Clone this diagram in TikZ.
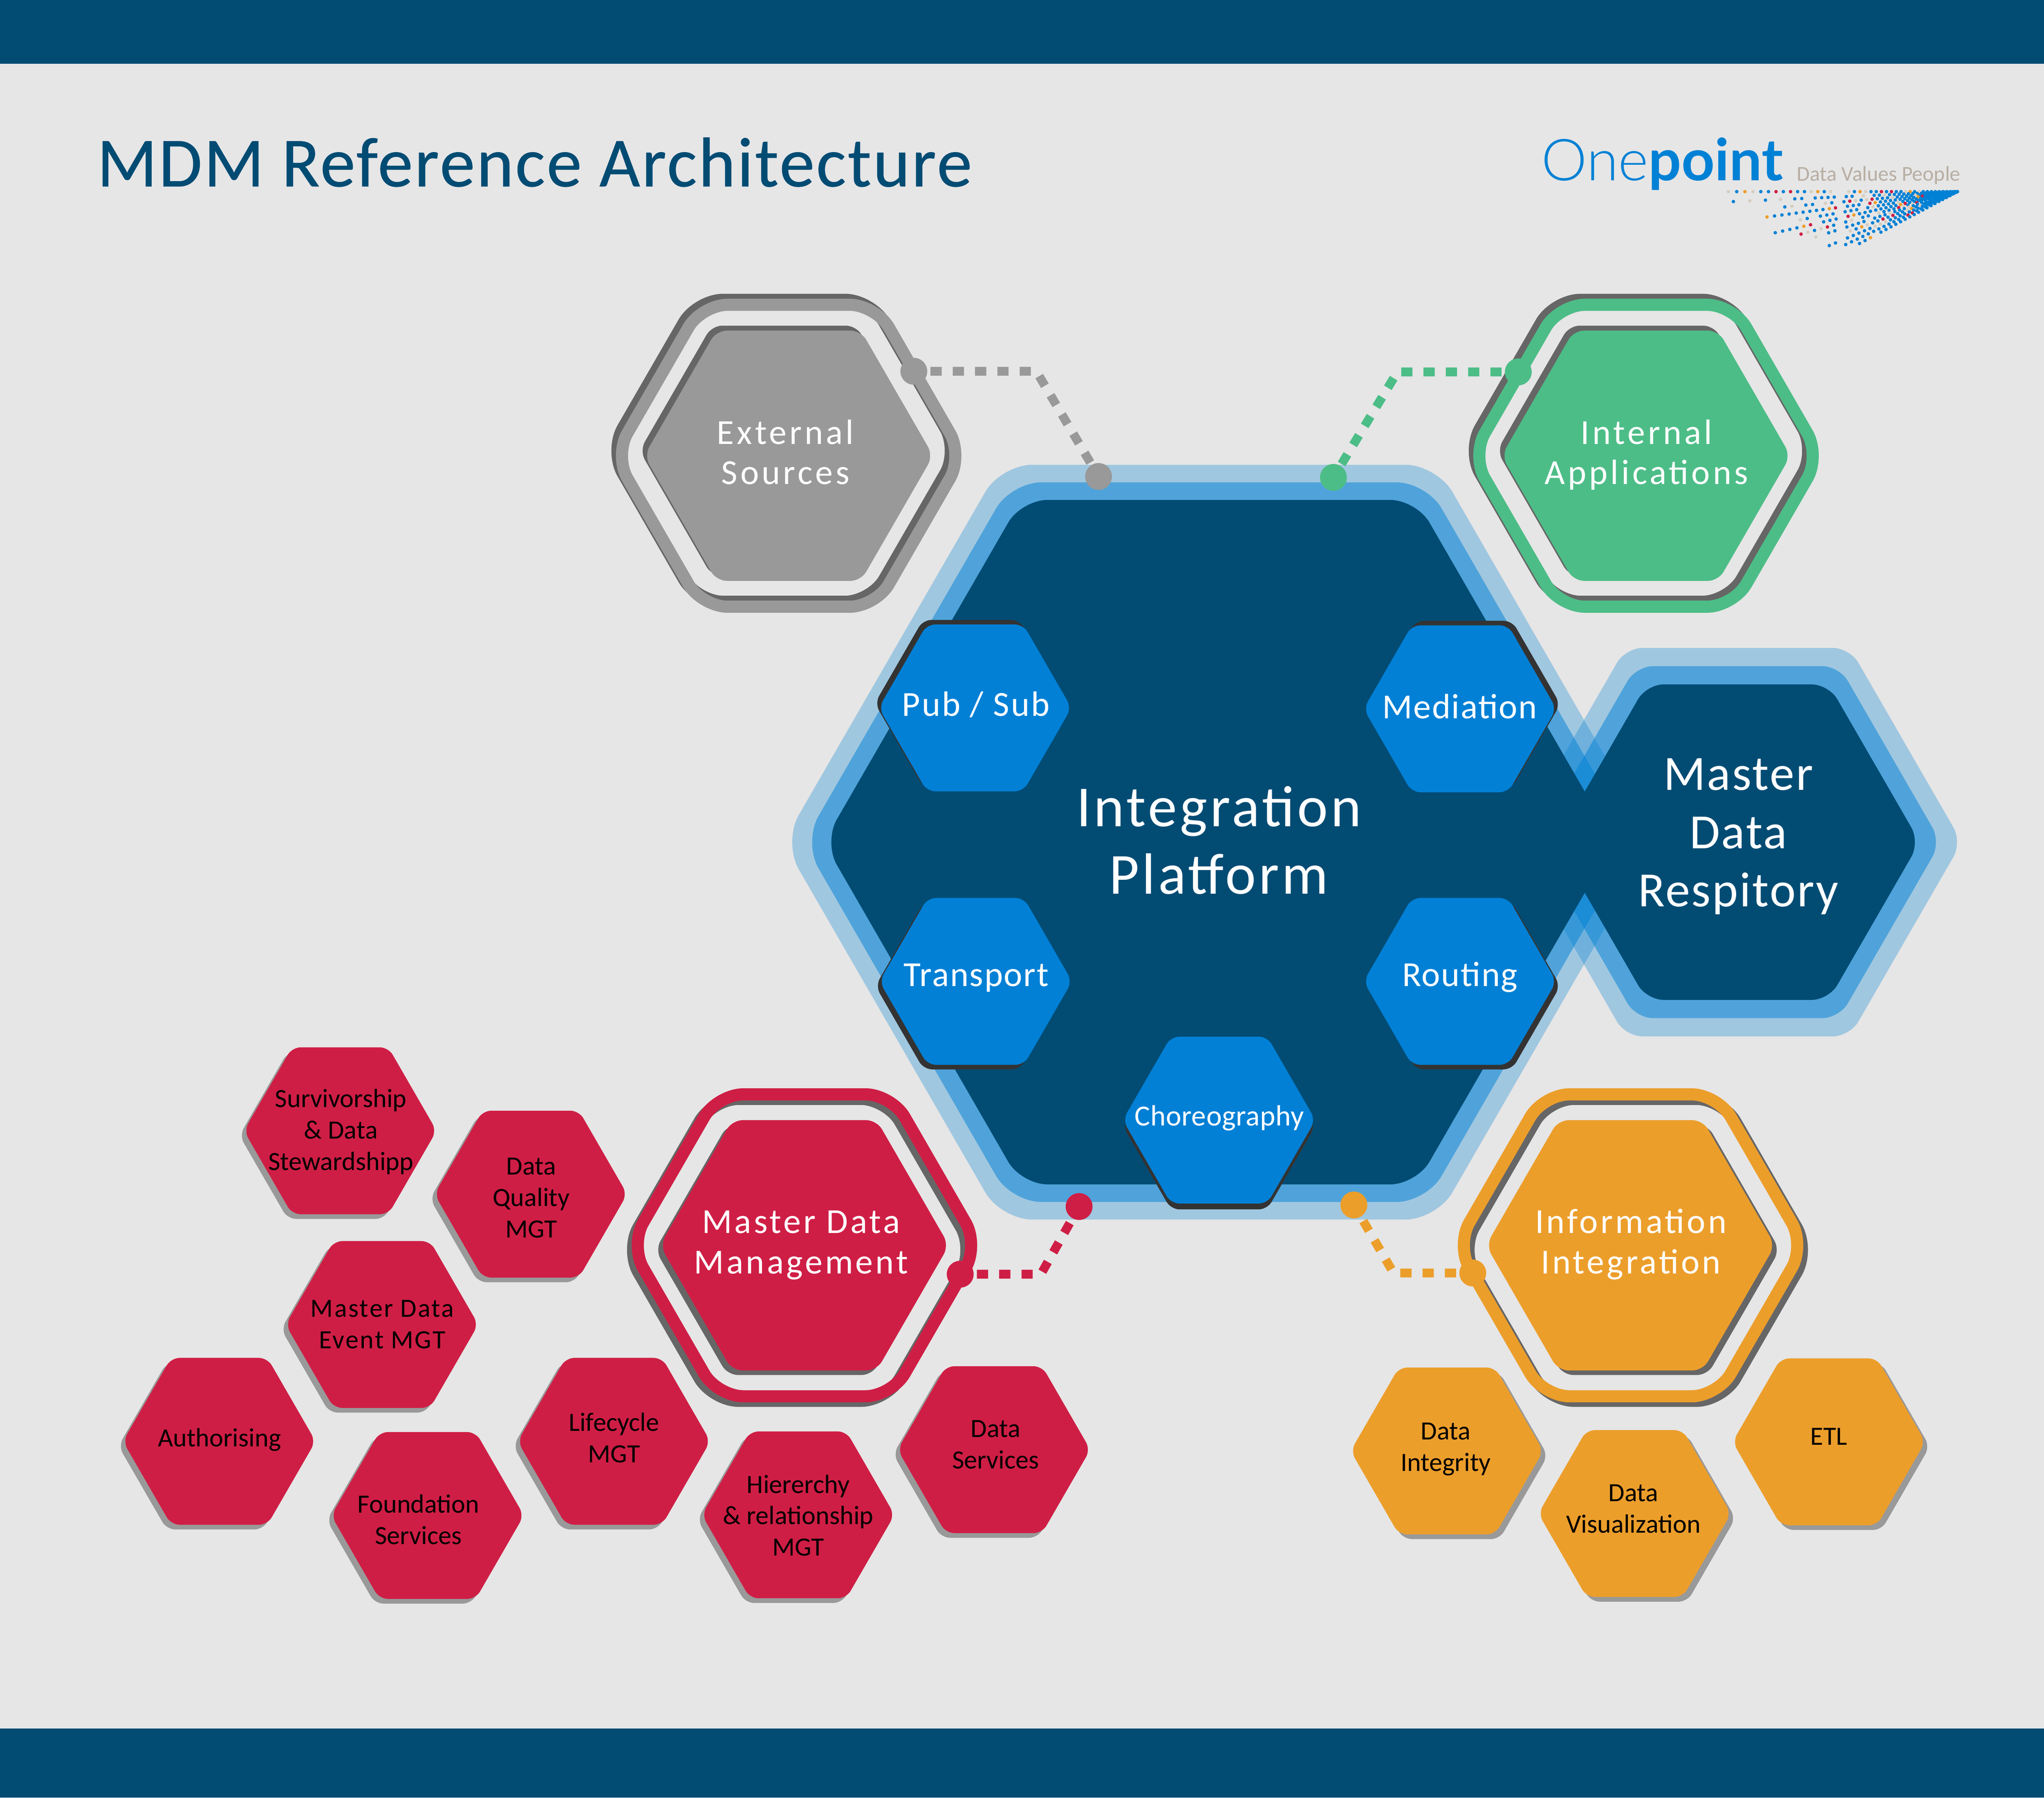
\documentclass[tikz,border=0pt]{standalone}
\usepackage{fontspec}
\setmainfont{Carlito}
\newfontfamily\thinlogo{Lato Light}
\newfontfamily\boldlogo{Lato}[BoldFont={Lato Bold}]
\definecolor{bgc}{HTML}{E6E6E6}
\definecolor{navy}{HTML}{024C74}
\definecolor{sky}{HTML}{0081D5}
\definecolor{tile}{HTML}{0280D6}
\definecolor{crim}{HTML}{CF1E45}
\definecolor{amber}{HTML}{EC9E2B}
\definecolor{mint}{HTML}{4DBD87}
\definecolor{stone}{HTML}{999999}
\definecolor{slate}{HTML}{666666}
\definecolor{ink}{HTML}{333333}
\definecolor{sand}{HTML}{D6CEC2}
\definecolor{taupe}{HTML}{B8AEA3}
\tikzset{
  link/.style={line width=3.4pt,dash pattern=on 4.3pt off 4.25pt,dash phase=7.5pt},
  endpoint/.style={circle,inner sep=0pt,minimum size=10.3pt},
  ringline/.style={line width=4.65pt,draw=#1,fill=none},
}
% hexagon path: options, cx, cy, half height, corner cut
\newcommand{\hx}[5]{\path[#1,rounded corners=#5*0.5pt]
  ({#2},{#3-#4}) -- ({#2+#4*0.57735},{#3-#4}) -- ({#2+#4*1.1547},{#3})
  -- ({#2+#4*0.57735},{#3+#4}) -- ({#2-#4*0.57735},{#3+#4})
  -- ({#2-#4*1.1547},{#3}) -- ({#2-#4*0.57735},{#3-#4}) -- cycle;}
% small tile: colour, shadow colour, cx, cy, shadow dx, dy
\newcommand{\tilehex}[6]{%
  \hx{fill=#2}{(#3+(#5))}{(#4+(#6))}{64}{6.5}
  \hx{fill=#1}{#3}{#4}{64}{6.5}}
% ringed hexagon: colour, cx, cy, shadow dx, dy
\newcommand{\ringhex}[5]{%
  \hx{ringline=slate}{(#2+(#4))}{(#3+(#5))}{115.8}{20}
  \hx{ringline=#1}{#2}{#3}{115.8}{20}
  \hx{fill=slate}{(#2+(#4))}{(#3+(#5))}{96}{8}
  \hx{fill=#1}{#2}{#3}{96}{8}}
% text: name, x, last baseline y, size, skip, letterspace, colour, lines
\newcommand{\lbl}[8]{\node[anchor=base,inner sep=0pt,text=#7] (#1) at (#2,{#3+0.7})
  {\fontsize{#4}{#5}\selectfont\addfontfeature{LetterSpace=#6}\begin{tabular}[b]{@{}c@{}}#8\end{tabular}};}
\begin{document}
\begin{tikzpicture}[x=0.5pt,y=-0.5pt]
\useasboundingbox (0,0) rectangle (1568,1378.94);
\fill[bgc] (0,0) rectangle (1568,1378.94);
\fill[navy] (0,0) rectangle (1568,49);
\fill[navy] (0,1326) rectangle (1568,1378.94);

% title and logo
\node[anchor=base west,inner sep=0pt,text=navy] (title) at (74,143)
  {\fontsize{27}{30}\selectfont\addfontfeature{LetterSpace=2.4,FakeBold=0.5}MDM Reference Architecture};
\node[anchor=base west,inner sep=0pt,text=sky] (logo) at (1182,138.4)
  {\fontsize{22.2}{25}\selectfont{\thinlogo One}{\boldlogo\bfseries point}};
\node[anchor=base west,inner sep=0pt,text=taupe] (tagline) at (1378,138.8)
  {\fontsize{8.1}{10}\selectfont Data Values People};
\foreach \r/\s/\m/\p in {0/0/760/0,1/0.129/725/0.4,2/0.258/580/0.8,3/0.387/625/0.2,4/0.52/512/0.6,5/0.656/590/0.1,6/0.79/500/0.5,7/0.93/476/0.3,8/1.07/390/0.7,9/1.224/420/0.2,10/1.378/358/0.5,11/1.54/315/0.1}{
  \foreach \n in {0,...,44}{
    \pgfmathsetmacro{\dd}{500*(exp(0.022*(\n+\p))-1)}
    \pgfmathtruncatemacro{\kk}{mod(\n*\n*3+\n*\r*5+\r*11,17)}
    \pgfmathtruncatemacro{\show}{(\dd<=\m)&&(\dd<250||!(\kk==2||\kk==5||\kk==9))?1:0}
    \ifnum\show=1
      \pgfmathsetmacro{\hue}{\dd<100?"sky":(\kk==3?"crim":(\kk==7?"amber":((\kk==11||\kk==14)?"sand":"sky")))}
      \fill[\hue] ({1501.6-0.24*\dd},{147+0.0825*\s*\dd}) circle[radius=1.35];
    \fi
  }
}

% integration platform and repository bands
\hx{fill=sky,opacity=0.3}{935}{646}{289.5}{24}
\hx{fill=sky,opacity=0.5}{935}{646}{276}{23}
\hx{fill=sky,opacity=0.3}{1333}{646}{149}{13}
\hx{fill=sky,opacity=0.5}{1333}{646}{135}{13}
\hx{fill=navy}{935}{646}{262.5}{20}
\hx{fill=navy}{1333}{646}{121}{13}

% ringed hexagons
\ringhex{stone}{605}{349.6}{-3.5}{-3.8}
\ringhex{mint}{1262.7}{349.6}{-3.5}{-3.8}
\ringhex{crim}{617.1}{955.25}{-3.6}{3.5}
\ringhex{amber}{1250.8}{955.25}{3.6}{3.5}

% inner tiles
\tilehex{tile}{ink}{748}{543}{-3}{-3.5}
\tilehex{tile}{ink}{1120}{543.7}{3}{-3.5}
\tilehex{tile}{ink}{748.5}{752.8}{-3}{3.5}
\tilehex{tile}{ink}{1120}{752.8}{3}{3.5}
\tilehex{tile}{ink}{935.2}{859.2}{0}{4.5}

% satellite tiles
\tilehex{crim}{stone}{261}{867.4}{-3.4}{3.6}
\tilehex{crim}{stone}{407.2}{916}{-3.4}{3.6}
\tilehex{crim}{stone}{293}{1016}{-3.4}{3.6}
\tilehex{crim}{stone}{168.2}{1105.6}{-3.4}{3.6}
\tilehex{crim}{stone}{328}{1162.5}{-3.4}{3.6}
\tilehex{crim}{stone}{471}{1105.6}{-3.4}{3.6}
\tilehex{crim}{stone}{612.3}{1162}{-3.4}{3.6}
\tilehex{crim}{stone}{762.5}{1112}{-3.4}{3.6}
\tilehex{amber}{stone}{1110}{1113}{3.4}{3.6}
\tilehex{amber}{stone}{1254}{1161}{3.4}{3.6}
\tilehex{amber}{stone}{1403}{1106}{3.4}{3.6}

% connectors
\node[endpoint,fill=stone] (extA) at (701,284.8) {};
\node[endpoint,fill=stone] (extB) at (842.7,365.5) {};
\coordinate (extK) at (795,284.8);
\draw[link,stone] (extA) -- (extK) -- (extB);
\node[endpoint,fill=mint] (intA) at (1164.7,285.3) {};
\node[endpoint,fill=mint] (intB) at (1022.9,366.2) {};
\coordinate (intK) at (1072,285.3);
\draw[link,mint] (intA) -- (intK) -- (intB);
\node[endpoint,fill=crim] (mdmA) at (736.6,977.4) {};
\node[endpoint,fill=crim] (mdmB) at (827.8,925.5) {};
\coordinate (mdmK) at (798.5,977.4);
\draw[link,crim] (mdmA) -- (mdmK) -- (mdmB);
\node[endpoint,fill=amber] (infA) at (1129.8,976.5) {};
\node[endpoint,fill=amber] (infB) at (1038.6,924.3) {};
\coordinate (infK) at (1069,976.5);
\draw[link,amber] (infA) -- (infK) -- (infB);

% labels
\lbl{tPlat}{935}{685.1}{22.3}{26}{4.8}{white}{Integration\\Platform}
\lbl{tRepo}{1333.5}{694.8}{18.9}{22.35}{3}{white}{Master\\Data\\Respitory}
\lbl{tExt}{602.5}{370.9}{13.5}{15.5}{8}{white}{External\\Sources}
\lbl{tInt}{1263}{370.9}{13.5}{15.5}{8}{white}{Internal\\Applications}
\lbl{tMdm}{614.5}{976.3}{13.5}{15.55}{7}{white}{Master Data\\Management}
\lbl{tInf}{1251}{976.4}{13.5}{15.55}{7}{white}{Information\\Integration}
\lbl{tPub}{748.6}{548.5}{13.5}{16}{4.6}{white}{Pub / Sub}
\lbl{tMed}{1119.8}{550.3}{13.5}{16}{3}{white}{Mediation}
\lbl{tTra}{748.8}{755.9}{13.5}{16}{3}{white}{Transport}
\lbl{tRou}{1120}{755.9}{13.5}{16}{3}{white}{Routing}
\lbl{tCho}{935.3}{862.7}{11.2}{14}{0.8}{white}{Choreography}
\lbl{tSur}{261.5}{897}{10.1}{12.05}{0}{black}{Survivorship\\\& Data\\Stewardshipp}
\lbl{tQua}{407.5}{948.7}{10.1}{12.05}{0}{black}{Data\\Quality\\MGT}
\lbl{tEve}{293.3}{1033.7}{10.1}{12.05}{5}{black}{Master Data\\Event MGT}
\lbl{tAut}{168.4}{1109}{10.1}{12.05}{0}{black}{Authorising}
\lbl{tFou}{321}{1184}{10.1}{12.05}{0}{black}{Foundation\\Services}
\lbl{tLif}{471}{1121.2}{10.1}{12.05}{0}{black}{Lifecycle\\MGT}
\lbl{tHie}{612.3}{1192.8}{10.1}{12.05}{0}{black}{Hiererchy\\\& relationship\\MGT}
\lbl{tSer}{763.8}{1126}{10.1}{12.05}{0}{black}{Data\\Services}
\lbl{tDin}{1109}{1127.7}{10.1}{12.05}{0}{black}{Data\\Integrity}
\lbl{tVis}{1253}{1175}{10.1}{12.05}{0}{black}{Data\\Visualization}
\lbl{tEtl}{1403}{1107.8}{10.1}{12.05}{0}{black}{ETL}
\end{tikzpicture}
\end{document}
